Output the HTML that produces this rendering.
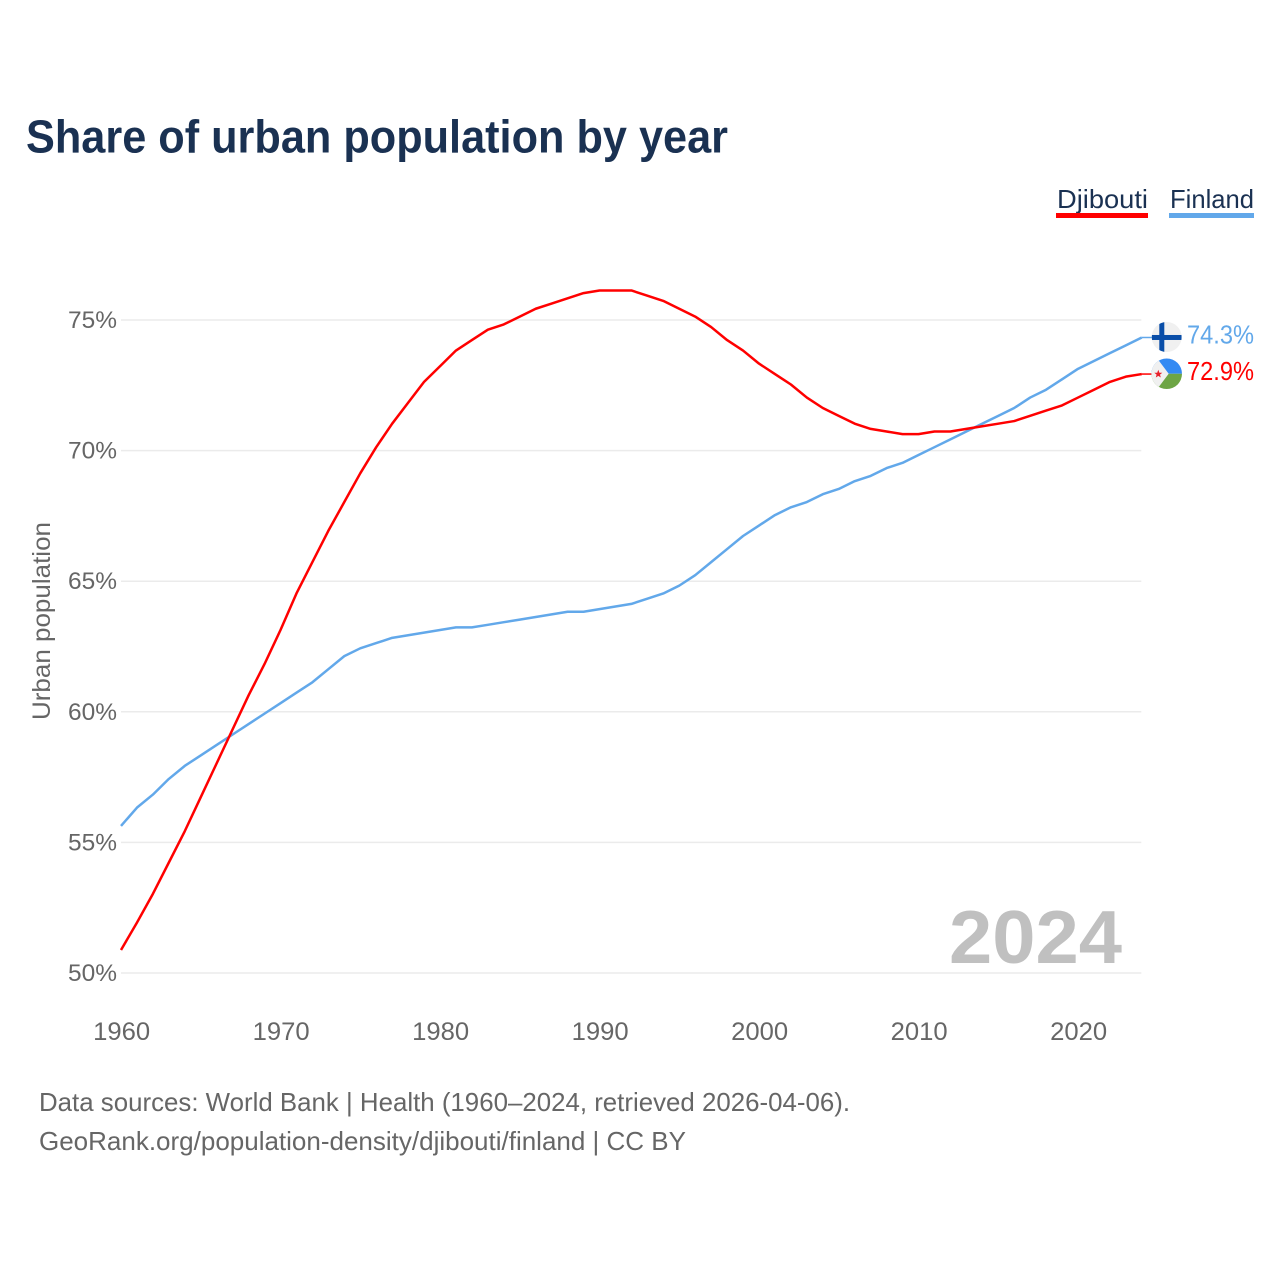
<!DOCTYPE html>
<html lang="en">
<head>
<meta charset="utf-8">
<title>Share of urban population by year</title>
<style>
html,body{margin:0;padding:0;background:#fff;width:1280px;height:1280px;overflow:hidden}
svg{display:block}
text{font-family:"Liberation Sans",sans-serif}
</style>
</head>
<body>
<svg id="chart" width="1280" height="1280" viewBox="0 0 1280 1280" xmlns="http://www.w3.org/2000/svg">
  <defs>
    <clipPath id="flag-clip-finland"><circle cx="0" cy="0" r="15"/></clipPath>
    <clipPath id="flag-clip-djibouti"><circle cx="0" cy="0" r="15.3"/></clipPath>
  </defs>
  <text x="26" y="152.5" font-size="46" font-weight="700" fill="#1a3152" textLength="702" lengthAdjust="spacingAndGlyphs">Share of urban population by year</text>

  <text x="1057" y="208" font-size="26" fill="#1a3152" textLength="91" lengthAdjust="spacingAndGlyphs">Djibouti</text>
  <rect x="1056" y="213" width="92" height="5" fill="#ff0000"/>
  <text x="1170" y="208" font-size="26" fill="#1a3152" textLength="84" lengthAdjust="spacingAndGlyphs">Finland</text>
  <rect x="1169" y="213" width="85" height="5" fill="#62a8ea"/>

  <g id="grid"></g>
  <g id="y-axis"></g>
  <g id="x-axis"></g>

  <text transform="translate(50,621) rotate(-90)" text-anchor="middle" font-size="25" fill="#666666" textLength="198" lengthAdjust="spacingAndGlyphs">Urban population</text>

  <text x="1122" y="963" text-anchor="end" font-size="75" font-weight="700" fill="#c0c0c0" textLength="173" lengthAdjust="spacingAndGlyphs">2024</text>

  <g id="series"></g>

  <g id="flag-finland">
    <g clip-path="url(#flag-clip-finland)">
      <rect x="-15" y="-15" width="30" height="30" fill="#f0f0f0"/>
      <rect x="-7.4" y="-15" width="5" height="30" fill="#0a4ea8"/>
      <rect x="-15" y="-2" width="30" height="5" fill="#0a4ea8"/>
    </g>
  </g>
  <g id="flag-djibouti">
    <g clip-path="url(#flag-clip-djibouti)">
      <rect x="-16" y="-16" width="32" height="16" fill="#338af3"/>
      <rect x="-16" y="0" width="32" height="16" fill="#6da544"/>
      <polygon points="-16,-16 -10,-16 2,0 -10,16 -16,16" fill="#f0f0f0"/>
      <polygon points="-8.4,-4 -7.3,-1 -4.4,-1 -6.7,0.9 -5.9,3.8 -8.4,2.1 -10.9,3.8 -10.1,0.9 -12.4,-1 -9.5,-1" fill="#e8202a"/>
    </g>
  </g>

  <text x="39" y="1111" font-size="26" fill="#666666" textLength="811" lengthAdjust="spacingAndGlyphs">Data sources: World Bank | Health (1960–2024, retrieved 2026-04-06).</text>
  <a><text x="39" y="1150" font-size="26" fill="#666666" textLength="647" lengthAdjust="spacingAndGlyphs">GeoRank.org/population-density/djibouti/finland | CC BY</text></a>
</svg>
<script>
var years = [1960,1961,1962,1963,1964,1965,1966,1967,1968,1969,1970,1971,1972,1973,1974,1975,1976,1977,1978,1979,1980,1981,1982,1983,1984,1985,1986,1987,1988,1989,1990,1991,1992,1993,1994,1995,1996,1997,1998,1999,2000,2001,2002,2003,2004,2005,2006,2007,2008,2009,2010,2011,2012,2013,2014,2015,2016,2017,2018,2019,2020,2021,2022,2023,2024];
var djiboutiValues = [50.85,51.9,53.0,54.2,55.4,56.7,58.0,59.3,60.6,61.8,63.1,64.5,65.7,66.9,68.0,69.1,70.1,71.0,71.8,72.6,73.2,73.8,74.2,74.6,74.8,75.1,75.4,75.6,75.8,76.0,76.1,76.1,76.1,75.9,75.7,75.4,75.1,74.7,74.2,73.8,73.3,72.9,72.5,72.0,71.6,71.3,71.0,70.8,70.7,70.6,70.6,70.7,70.7,70.8,70.9,71.0,71.1,71.3,71.5,71.7,72.0,72.3,72.6,72.8,72.9];
var finlandValues = [55.6,56.3,56.8,57.4,57.9,58.3,58.7,59.1,59.5,59.9,60.3,60.7,61.1,61.6,62.1,62.4,62.6,62.8,62.9,63.0,63.1,63.2,63.2,63.3,63.4,63.5,63.6,63.7,63.8,63.8,63.9,64.0,64.1,64.3,64.5,64.8,65.2,65.7,66.2,66.7,67.1,67.5,67.8,68.0,68.3,68.5,68.8,69.0,69.3,69.5,69.8,70.1,70.4,70.7,71.0,71.3,71.6,72.0,72.3,72.7,73.1,73.4,73.7,74.0,74.3];
var yTicks = [50,55,60,65,70,75];
var xTicks = [1960,1970,1980,1990,2000,2010,2020];

var svgNS = 'http://www.w3.org/2000/svg';
var lineShift = -0.8;
function xScale(year){ return 121 + (year - 1960) * 15.95; }
function yScale(v){ return 973 - (v - 50) * 26.12; }
function make(tag, attrs, parent){
  var el = document.createElementNS(svgNS, tag);
  for (var k in attrs) el.setAttribute(k, attrs[k]);
  parent.appendChild(el);
  return el;
}

var gridG = document.getElementById('grid');
var yG = document.getElementById('y-axis');
var xG = document.getElementById('x-axis');
var seriesG = document.getElementById('series');
var plotRight = xScale(years[years.length - 1]);

yTicks.forEach(function(t){
  var line = make('line', {x1:121, x2:plotRight - 0.5, y1:yScale(t), y2:yScale(t), stroke:'#ebebeb', 'stroke-width':1.5}, gridG);
  
  
  var label = make('text', {x:117, y:yScale(t) + 8, 'text-anchor':'end', 'font-size':24, fill:'#666666', textLength:49, lengthAdjust:'spacingAndGlyphs'}, yG);
  
  
  label.textContent = t + '%';
});

xTicks.forEach(function(t){
  var label = make('text', {x:xScale(t) + 0.7, y:1040, 'text-anchor':'middle', 'font-size':25, fill:'#666666', textLength:57, lengthAdjust:'spacingAndGlyphs'}, xG);
  
  
  label.textContent = t;
});

function linePoints(values){
  return values.map(function(v, i){ return xScale(years[i]).toFixed(2) + ',' + (yScale(v) + lineShift).toFixed(2); }).join(' ');
}

var finlandLine = make('polyline', {points:linePoints(finlandValues), fill:'none', stroke:'#62a8ea', 'stroke-width':2.5, 'stroke-linejoin':'round'}, seriesG);



var djiboutiLine = make('polyline', {points:linePoints(djiboutiValues), fill:'none', stroke:'#ff0000', 'stroke-width':2.5, 'stroke-linejoin':'round'}, seriesG);



var lastFinland = finlandValues[finlandValues.length - 1];
var lastDjibouti = djiboutiValues[djiboutiValues.length - 1];

var finlandLeader = make('line', {x1:plotRight, x2:plotRight + 12, y1:yScale(lastFinland) + lineShift, y2:yScale(lastFinland) + lineShift, stroke:'#62a8ea', 'stroke-width':1.5}, seriesG);



var djiboutiLeader = make('line', {x1:plotRight, x2:plotRight + 12, y1:yScale(lastDjibouti) + lineShift, y2:yScale(lastDjibouti) + lineShift, stroke:'#ff0000', 'stroke-width':1.5}, seriesG);



var finlandLabel = make('text', {x:1254, y:yScale(lastFinland) + 5, 'text-anchor':'end', 'font-size':26, fill:'#62a8ea', textLength:67, lengthAdjust:'spacingAndGlyphs'}, seriesG);


finlandLabel.textContent = lastFinland.toFixed(1) + '%';

var djiboutiLabel = make('text', {x:1254, y:yScale(lastDjibouti) + 5, 'text-anchor':'end', 'font-size':26, fill:'#ff0000', textLength:67, lengthAdjust:'spacingAndGlyphs'}, seriesG);


djiboutiLabel.textContent = lastDjibouti.toFixed(1) + '%';

document.getElementById('flag-finland').setAttribute('transform', 'translate(1166.7,' + (yScale(lastFinland) - 1.3) + ')');
document.getElementById('flag-djibouti').setAttribute('transform', 'translate(1166.7,' + (yScale(lastDjibouti) - 1.1) + ')');
</script>
</body>
</html>
